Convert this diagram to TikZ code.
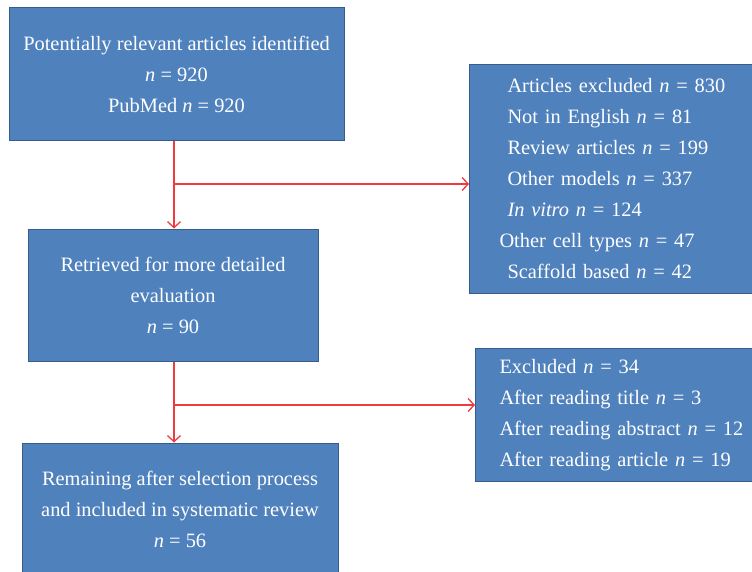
\documentclass[tikz,border=0pt]{standalone}
\usepackage{fontspec}
\setmainfont{Liberation Serif}
\usetikzlibrary{arrows.meta}
\definecolor{boxblue}{HTML}{4F81BD}
\definecolor{boxedge}{HTML}{385D8A}
\definecolor{linkred}{HTML}{EE3B3F}
\newcommand{\cnt}[1]{\textit{n}~=~#1}
\begin{document}
\begin{tikzpicture}[x=1pt,y=-1pt,
    box/.style={draw=boxedge,line width=1pt,fill=boxblue,text=white,
      font=\fontsize{20.4}{31}\selectfont,inner sep=0pt},
    midbox/.style={box,align=center},
    listbox/.style={box,align=left,inner ysep=0pt},
    link/.style={draw=linkred,line width=1.5pt,
      -{Straight Barb[length=6pt,width=13pt,line width=1.3pt]}}]
    \useasboundingbox (0,0) rectangle (752,572);
    \clip (0,0) rectangle (752,572);

    % Main boxes
    \node[midbox,minimum width=335,minimum height=133] (found) at (176.5,74.5)
      {Potentially relevant articles identified\\ \cnt{920}\\ PubMed \cnt{920}};
    \node[midbox,minimum width=290,minimum height=132] (retrieved) at (173,295)
      {Retrieved for more detailed\\ evaluation\\ \cnt{90}};
    \node[midbox,minimum width=316,minimum height=133] (remaining) at (180,509.5)
      {Remaining after selection process\\ and included in systematic review\\ \cnt{56}};

    % Exclusion boxes
    \node[listbox,text width=240,inner xsep=38,minimum height=229,anchor=north west]
      (excluded) at (469,64)
      {Articles excluded \cnt{830}\\ Not in English \cnt{81}\\ Review articles \cnt{199}\\
       Other models \cnt{337}\\ \textit{In vitro} \cnt{124}\\
       \hspace*{-8pt}Other cell types \cnt{47}\\ Scaffold based \cnt{42}};
    \node[listbox,text width=260,inner xsep=24,minimum height=133,anchor=north west]
      (dropped) at (475,348)
      {Excluded \cnt{34}\\ After reading title \cnt{3}\\
       After reading abstract \cnt{12}\\ After reading article \cnt{19}};

    % Branch points
    \coordinate (split1) at (174,184);
    \coordinate (split2) at (174,405);

    % Draw connectors
    \draw[link] (split1 |- found.south) -- (split1 |- retrieved.north);
    \draw[link] (split1) -- (split1 -| excluded.west);
    \draw[link] (split2 |- retrieved.south) -- (split2 |- remaining.north);
    \draw[link] (split2) -- (split2 -| dropped.west);
\end{tikzpicture}
\end{document}
